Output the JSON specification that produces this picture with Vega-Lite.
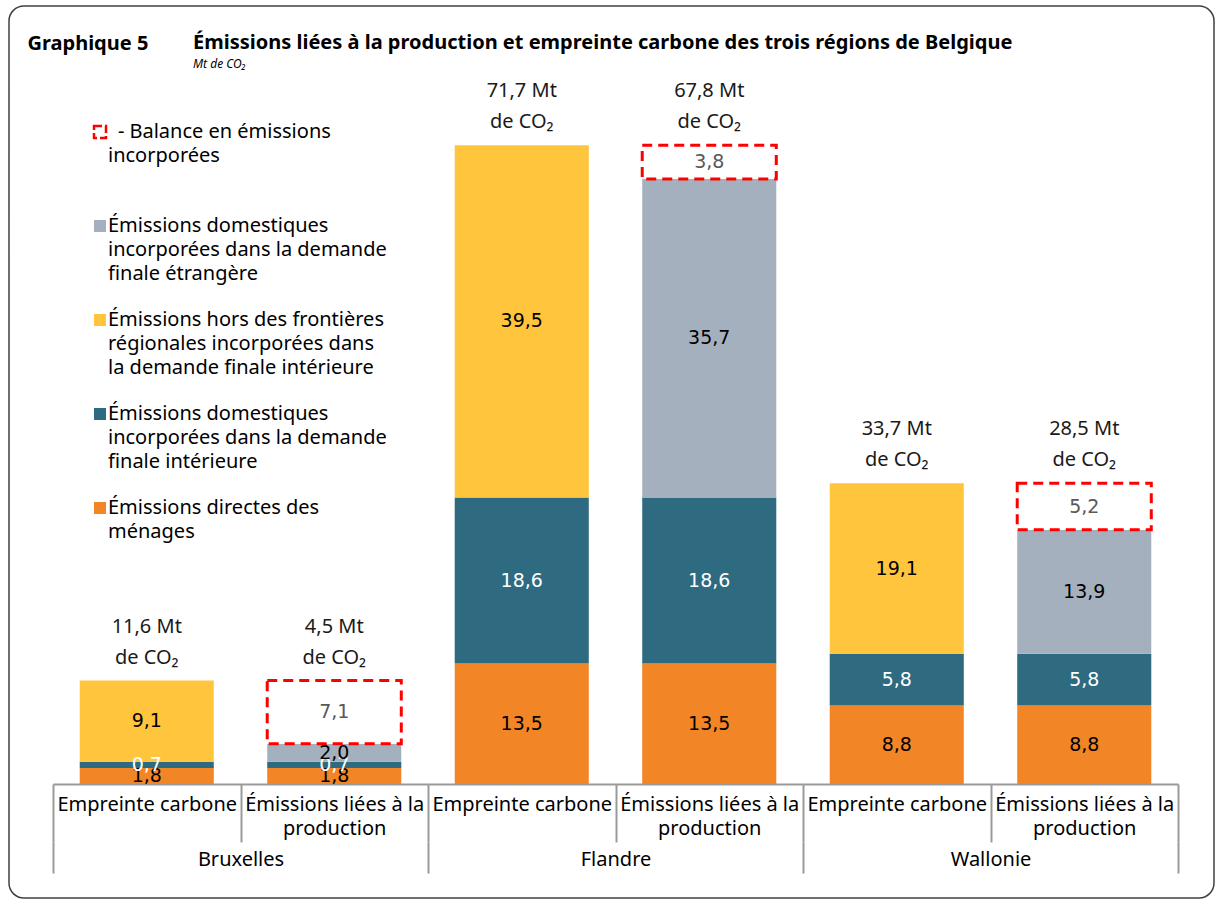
{
  "$schema": "https://vega.github.io/schema/vega-lite/v6.json",
  "width": 1205,
  "height": 892,
  "autosize": {"type": "none"},
  "padding": {"left": 9, "top": 6, "right": 1, "bottom": 2},
  "background": "#FFFFFF",
  "config": {
    "view": {"stroke": "#404040", "strokeWidth": 1.5, "cornerRadius": 15},
    "locale": {"number": {"decimal": ",", "thousands": ".", "grouping": [3], "currency": ["", " Mt"]}},
    "style": {"guide-label": {"lineHeight": 24, "dy": -10}}
  },
  "title": {
    "text": "Émissions liées à la production et empreinte carbone des trois régions de Belgique",
    "subtitle": "Mt de CO₂",
    "anchor": "start",
    "frame": "group",
    "dx": 184,
    "offset": -64,
    "font": "Noto Sans",
    "fontSize": 20,
    "fontWeight": "bold",
    "color": "#000000",
    "subtitleFont": "Noto Sans",
    "subtitleFontSize": 12,
    "subtitleFontStyle": "italic",
    "subtitleColor": "#000000",
    "subtitlePadding": 6
  },
  "datasets": {
    "seg": [
      {"region": "Bruxelles", "bar": "Bruxelles|Empreinte carbone", "kind": "men", "rank": 1, "value": 1.8},
      {"region": "Bruxelles", "bar": "Bruxelles|Empreinte carbone", "kind": "int", "rank": 2, "value": 0.7},
      {"region": "Bruxelles", "bar": "Bruxelles|Empreinte carbone", "kind": "hors", "rank": 3, "value": 9.1},
      {"region": "Bruxelles", "bar": "Bruxelles|Émissions liées à la|production", "kind": "men", "rank": 1, "value": 1.8},
      {"region": "Bruxelles", "bar": "Bruxelles|Émissions liées à la|production", "kind": "int", "rank": 2, "value": 0.7},
      {"region": "Bruxelles", "bar": "Bruxelles|Émissions liées à la|production", "kind": "etr", "rank": 3, "value": 2.0},
      {"region": "Bruxelles", "bar": "Bruxelles|Émissions liées à la|production", "kind": "bal", "rank": 4, "value": 7.1},
      {"region": "Flandre", "bar": "Flandre|Empreinte carbone", "kind": "men", "rank": 1, "value": 13.5},
      {"region": "Flandre", "bar": "Flandre|Empreinte carbone", "kind": "int", "rank": 2, "value": 18.6},
      {"region": "Flandre", "bar": "Flandre|Empreinte carbone", "kind": "hors", "rank": 3, "value": 39.5},
      {"region": "Flandre", "bar": "Flandre|Émissions liées à la|production", "kind": "men", "rank": 1, "value": 13.5},
      {"region": "Flandre", "bar": "Flandre|Émissions liées à la|production", "kind": "int", "rank": 2, "value": 18.6},
      {"region": "Flandre", "bar": "Flandre|Émissions liées à la|production", "kind": "etr", "rank": 3, "value": 35.7},
      {"region": "Flandre", "bar": "Flandre|Émissions liées à la|production", "kind": "bal", "rank": 4, "value": 3.8},
      {"region": "Wallonie", "bar": "Wallonie|Empreinte carbone", "kind": "men", "rank": 1, "value": 8.8},
      {"region": "Wallonie", "bar": "Wallonie|Empreinte carbone", "kind": "int", "rank": 2, "value": 5.8},
      {"region": "Wallonie", "bar": "Wallonie|Empreinte carbone", "kind": "hors", "rank": 3, "value": 19.1},
      {"region": "Wallonie", "bar": "Wallonie|Émissions liées à la|production", "kind": "men", "rank": 1, "value": 8.8},
      {"region": "Wallonie", "bar": "Wallonie|Émissions liées à la|production", "kind": "int", "rank": 2, "value": 5.8},
      {"region": "Wallonie", "bar": "Wallonie|Émissions liées à la|production", "kind": "etr", "rank": 3, "value": 13.9},
      {"region": "Wallonie", "bar": "Wallonie|Émissions liées à la|production", "kind": "bal", "rank": 4, "value": 5.2}
    ],
    "tot": [
      {"bar": "Bruxelles|Empreinte carbone", "total": 11.6, "top": 11.6},
      {"bar": "Bruxelles|Émissions liées à la|production", "total": 4.5, "top": 11.6},
      {"bar": "Flandre|Empreinte carbone", "total": 71.7, "top": 71.6},
      {"bar": "Flandre|Émissions liées à la|production", "total": 67.8, "top": 71.6},
      {"bar": "Wallonie|Empreinte carbone", "total": 33.7, "top": 33.7},
      {"bar": "Wallonie|Émissions liées à la|production", "total": 28.5, "top": 33.7}
    ]
  },
  "layer": [
    {
      "data": {"name": "seg"},
      "mark": {"type": "bar", "width": {"band": 0.715}, "strokeWidth": 3, "strokeDash": [10, 6]},
      "encoding": {
        "x": {
          "field": "bar", "type": "nominal",
          "sort": ["Bruxelles|Empreinte carbone", "Bruxelles|Émissions liées à la|production", "Flandre|Empreinte carbone", "Flandre|Émissions liées à la|production", "Wallonie|Empreinte carbone", "Wallonie|Émissions liées à la|production"],
          "scale": {"range": [44, 1169], "paddingInner": 0, "paddingOuter": 0},
          "axis": {
            "orient": "bottom", "offset": -114, "title": null,
            "domainColor": "#9A9A9A", "domainWidth": 2,
            "tickBand": "extent", "tickSize": 58, "tickColor": "#9A9A9A", "tickWidth": 2,
            "labelExpr": "slice(split(datum.value, '|'), 1)",
            "labelFont": "Noto Sans", "labelFontSize": 20, "labelLineHeight": 24, "labelColor": "#000000",
            "labelBaseline": "top", "labelPadding": -38, "labelAngle": 0, "labelLimit": 0, "labelOverlap": false
          }
        },
        "y": {
          "field": "value", "type": "quantitative", "stack": "zero",
          "scale": {"domain": [0, 87.2], "range": [778, 0], "nice": false, "zero": true},
          "axis": null
        },
        "color": {
          "field": "kind", "type": "nominal",
          "scale": {"domain": ["bal", "etr", "hors", "int", "men"], "range": ["#FFFFFF", "#A5B0BE", "#FFC53D", "#2E6A80", "#F28526"]},
          "legend": {
            "orient": "none", "legendX": 81, "legendY": 116, "title": null, "padding": 0,
            "symbolType": "square", "symbolSize": 144, "symbolStrokeWidth": 2.5, "symbolDash": [8, 3],
            "labelExpr": "datum.value == 'bal' ? ['\u2060\u2002-\u2005Balance en émissions', 'incorporées', ''] : datum.value == 'etr' ? ['Émissions domestiques', 'incorporées dans la demande', 'finale étrangère'] : datum.value == 'hors' ? ['Émissions hors des frontières', 'régionales incorporées dans', 'la demande finale intérieure'] : datum.value == 'int' ? ['Émissions domestiques', 'incorporées dans la demande', 'finale intérieure'] : ['Émissions directes des', 'ménages']",
            "labelFont": "Noto Sans", "labelFontSize": 20, "labelColor": "#000000",
            "labelLimit": 0, "labelBaseline": "top", "labelOffset": -2, "rowPadding": 25
          }
        },
        "stroke": {
          "field": "kind", "type": "nominal",
          "scale": {"domain": ["bal", "etr", "hors", "int", "men"], "range": ["#FF0000", "transparent", "transparent", "transparent", "transparent"]},
          "legend": {}
        },
        "order": {"field": "rank", "type": "quantitative"}
      }
    },
    {
      "data": {"name": "seg"},
      "mark": {"type": "text", "font": "DejaVu Sans", "fontSize": 19, "baseline": "middle", "align": "center"},
      "encoding": {
        "x": {"field": "bar", "type": "nominal", "axis": null,
          "sort": ["Bruxelles|Empreinte carbone", "Bruxelles|Émissions liées à la|production", "Flandre|Empreinte carbone", "Flandre|Émissions liées à la|production", "Wallonie|Empreinte carbone", "Wallonie|Émissions liées à la|production"],
          "scale": {"range": [44, 1169], "paddingInner": 0, "paddingOuter": 0}},
        "y": {"field": "value", "type": "quantitative", "stack": "zero", "bandPosition": 0.5, "axis": null},
        "detail": {"field": "kind", "type": "nominal"},
        "order": {"field": "rank", "type": "quantitative"},
        "text": {"field": "value", "type": "quantitative", "format": ".1f"},
        "color": {"condition": [{"test": "datum.kind === 'int'", "value": "#FFFFFF"}, {"test": "datum.kind === 'bal'", "value": "#595959"}], "value": "#000000"}
      }
    },
    {
      "data": {"name": "tot"},
      "mark": {"type": "text", "font": "Noto Sans", "fontSize": 20, "baseline": "middle", "align": "center", "dy": -54, "color": "#1A1A1A"},
      "encoding": {
        "x": {"field": "bar", "type": "nominal", "axis": null,
          "sort": ["Bruxelles|Empreinte carbone", "Bruxelles|Émissions liées à la|production", "Flandre|Empreinte carbone", "Flandre|Émissions liées à la|production", "Wallonie|Empreinte carbone", "Wallonie|Émissions liées à la|production"],
          "scale": {"range": [44, 1169], "paddingInner": 0, "paddingOuter": 0}},
        "y": {"field": "top", "type": "quantitative", "axis": null},
        "text": {"field": "total", "type": "quantitative", "format": "$.1f"}
      }
    },
    {
      "data": {"name": "tot"},
      "mark": {"type": "text", "font": "Noto Sans", "fontSize": 20, "baseline": "middle", "align": "center", "dy": -23, "color": "#1A1A1A"},
      "encoding": {
        "x": {"field": "bar", "type": "nominal", "axis": null,
          "sort": ["Bruxelles|Empreinte carbone", "Bruxelles|Émissions liées à la|production", "Flandre|Empreinte carbone", "Flandre|Émissions liées à la|production", "Wallonie|Empreinte carbone", "Wallonie|Émissions liées à la|production"],
          "scale": {"range": [44, 1169], "paddingInner": 0, "paddingOuter": 0}},
        "y": {"field": "top", "type": "quantitative", "axis": null},
        "text": {"value": "de CO₂"}
      }
    },
    {
      "data": {"name": "seg"},
      "mark": {"type": "text", "opacity": 0},
      "encoding": {
        "x": {
          "field": "region", "type": "nominal", "sort": ["Bruxelles", "Flandre", "Wallonie"],
          "scale": {"range": [44, 1169], "paddingInner": 0, "paddingOuter": 0},
          "axis": {
            "orient": "bottom", "offset": -56, "domain": false,
            "tickBand": "extent", "tickSize": 31, "tickColor": "#9A9A9A", "tickWidth": 2,
            "labelFont": "Noto Sans", "labelFontSize": 20, "labelColor": "#000000",
            "labelBaseline": "top", "labelPadding": -14, "labelAngle": 0, "labelLimit": 0,
            "title": "Graphique 5", "titleX": 18, "titleY": -793, "titleAngle": 0,
            "titleAlign": "left", "titleBaseline": "alphabetic", "titleAnchor": "start",
            "titleFont": "Noto Sans", "titleFontSize": 20, "titleFontWeight": "bold", "titleColor": "#000000"
          }
        },
        "text": {"value": ""}
      }
    }
  ],
  "resolve": {"scale": {"x": "independent"}, "axis": {"x": "independent"}}
}
